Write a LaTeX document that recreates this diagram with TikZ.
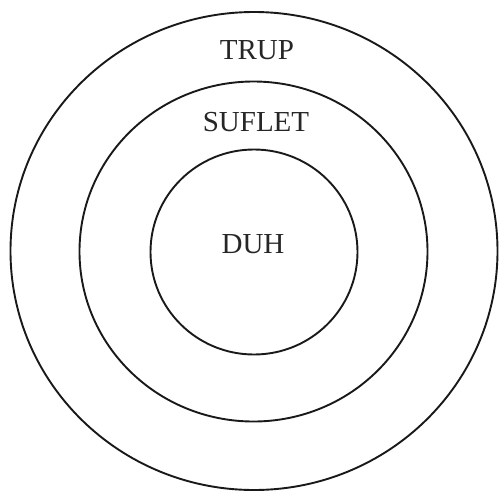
\documentclass[tikz,border=0pt]{standalone}
\usepackage{fontspec}
\setmainfont{Liberation Serif}
\usepackage{tikz}
\tikzset{
  ring/.style={line width=1.9pt,black!90},
  layer/.style={font=\fontsize{29}{32}\selectfont,black!85,inner sep=0pt,anchor=base}
}
\begin{document}
\begin{tikzpicture}[x=1pt,y=-1pt]
\useasboundingbox (0,0) rectangle (499,491);
% Rings
\draw[ring] (254,251) ellipse [x radius=243.5,y radius=239];
\draw[ring] (253.5,251.5) ellipse [x radius=174,y radius=170];
\draw[ring] (254,252) ellipse [x radius=103.5,y radius=102.5];
% Labels
\node[layer] (trup) at (257,59) {TRUP};
\node[layer] (suflet) at (256,131) {SUFLET};
\node[layer] (duh) at (253,253) {DUH};
\end{tikzpicture}
\end{document}
